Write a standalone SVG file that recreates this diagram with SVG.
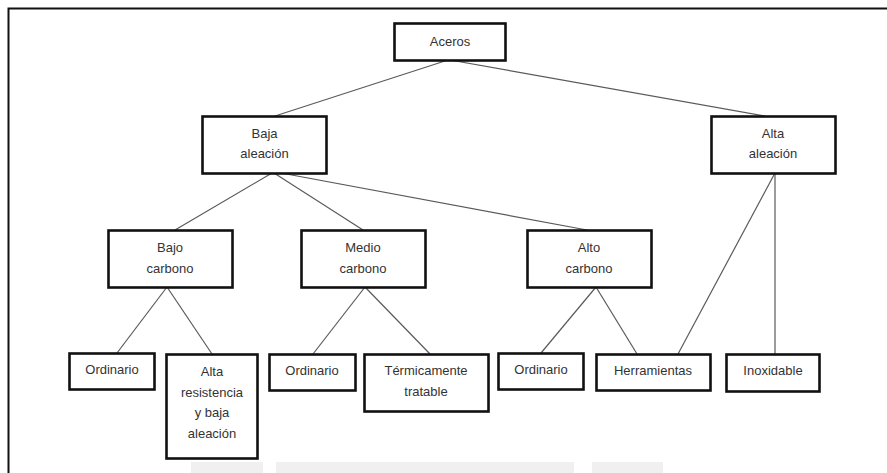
<svg xmlns="http://www.w3.org/2000/svg" width="887" height="473" viewBox="0 0 887 473">
<style>
.box{fill:#fff;stroke:#111;stroke-width:2.6}
.t{font-family:"Liberation Sans",Arial,sans-serif;font-size:13px;fill:#333;text-anchor:middle}
.c line{stroke:#5a5a5a;stroke-width:1.2}
</style>
<rect x="0" y="0" width="887" height="473" fill="#fff"/>
<g id="frame"><path d="M8.5 480 V8.5 H895" fill="none" stroke="#111" stroke-width="2"/></g>
<g id="watermark" fill="#f0f0f0">
<rect x="191" y="462" width="72" height="12"/>
<rect x="276" y="462" width="298" height="12"/>
<rect x="592" y="462" width="71" height="12"/>
</g>
<g id="connectors" class="c">
<line x1="448" y1="60" x2="275" y2="116"/>
<line x1="450" y1="60" x2="765" y2="116"/>
<line x1="272" y1="173" x2="175" y2="230"/>
<line x1="274" y1="173" x2="363" y2="230"/>
<line x1="281" y1="173" x2="587" y2="230"/>
<line x1="775" y1="173" x2="678" y2="354"/>
<line x1="775" y1="173" x2="775" y2="354"/>
<line x1="167" y1="287" x2="117" y2="353"/>
<line x1="167" y1="287" x2="212" y2="354"/>
<line x1="365" y1="287" x2="313" y2="354"/>
<line x1="365" y1="287" x2="430" y2="354"/>
<line x1="596" y1="287" x2="541" y2="353"/>
<line x1="596" y1="287" x2="637" y2="354"/>
</g>
<g id="aceros"><rect class="box" x="394.5" y="23.5" width="111" height="37"/><text class="t" x="450" y="46">Aceros</text></g>
<g id="baja-aleacion"><rect class="box" x="202.5" y="116.5" width="124" height="57"/><text class="t" x="264.5" y="138">Baja</text><text class="t" x="264.5" y="158">aleación</text></g>
<g id="alta-aleacion"><rect class="box" x="711.5" y="116.5" width="124" height="57"/><text class="t" x="773" y="138">Alta</text><text class="t" x="773" y="158">aleación</text></g>
<g id="bajo-carbono"><rect class="box" x="108.5" y="230.5" width="124" height="57"/><text class="t" x="170" y="252">Bajo</text><text class="t" x="170" y="273">carbono</text></g>
<g id="medio-carbono"><rect class="box" x="301.5" y="230.5" width="124" height="57"/><text class="t" x="363" y="252">Medio</text><text class="t" x="363" y="273">carbono</text></g>
<g id="alto-carbono"><rect class="box" x="527.5" y="230.5" width="124" height="57"/><text class="t" x="589" y="252">Alto</text><text class="t" x="589" y="273">carbono</text></g>
<g id="ordinario-1"><rect class="box" x="69.5" y="353.5" width="85" height="36"/><text class="t" x="112" y="374">Ordinario</text></g>
<g id="alta-resistencia"><rect class="box" x="166.5" y="354.5" width="91" height="104"/><text class="t" x="212" y="376">Alta</text><text class="t" x="212" y="397">resistencia</text><text class="t" x="212" y="417">y baja</text><text class="t" x="212" y="438">aleación</text></g>
<g id="ordinario-2"><rect class="box" x="269.5" y="354.5" width="86" height="36"/><text class="t" x="312" y="375">Ordinario</text></g>
<g id="termicamente-tratable"><rect class="box" x="364.5" y="354.5" width="124" height="57"/><text class="t" x="426" y="375">Térmicamente</text><text class="t" x="426" y="396">tratable</text></g>
<g id="ordinario-3"><rect class="box" x="498.5" y="353.5" width="85" height="36"/><text class="t" x="541" y="374">Ordinario</text></g>
<g id="herramientas"><rect class="box" x="596.5" y="354.5" width="114" height="36"/><text class="t" x="653" y="375">Herramientas</text></g>
<g id="inoxidable"><rect class="box" x="726.5" y="354.5" width="93" height="37"/><text class="t" x="773" y="375">Inoxidable</text></g>
</svg>
